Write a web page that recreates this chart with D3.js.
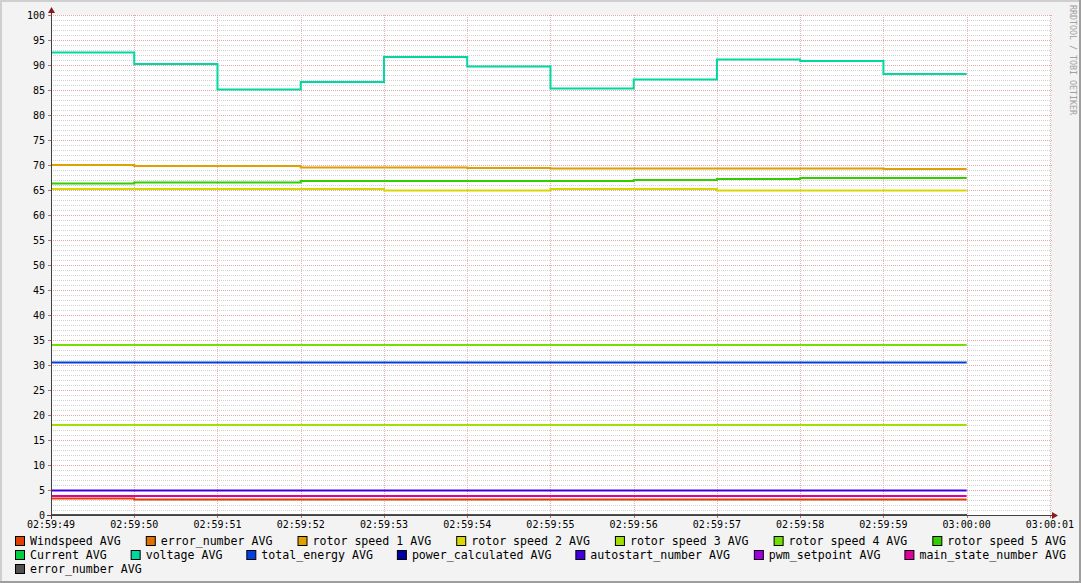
<!DOCTYPE html>
<html><head><meta charset="utf-8">
<script src="https://cdn.jsdelivr.net/npm/d3@7"></script>
<style>
html,body{margin:0;padding:0;background:#f3f3f3;}
svg{display:block;}
text{font-family:"DejaVu Sans Mono",monospace;}
</style></head>
<body><svg id="c" width="1081" height="583"></svg>
<script>
// ---- data ----
const startTime = "2024-01-01T02:59:49";
const tickLabels = ["02:59:49","02:59:50","02:59:51","02:59:52","02:59:53","02:59:54","02:59:55","02:59:56","02:59:57","02:59:58","02:59:59","03:00:00","03:00:01"];
const yTicks = [0,5,10,15,20,25,30,35,40,45,50,55,60,65,70,75,80,85,90,95,100];
const seriesNames = ["Windspeed AVG","error_number AVG","rotor speed 1 AVG","rotor speed 2 AVG","rotor speed 3 AVG","rotor speed 4 AVG","rotor speed 5 AVG","Current AVG","voltage AVG","total_energy AVG","power_calculated AVG","autostart_number AVG","pwm_setpoint AVG","main_state_number AVG","error_number AVG"];
const seriesColors = ["#e04000","#e07000","#e0a000","#d8d800","#a0e000","#70e000","#30d000","#00d040","#00d8a0","#0040e0","#0000a0","#4000e0","#a000e0","#e000a0","#505050"];
const windspeed = [3.3,3.1,3.1,3.1,3.1,3.1,3.1,3.1,3.1,3.1,3.1];
const errorNumber1 = [0,0,0,0,0,0,0,0,0,0,0];
const rotor1 = [70.0,69.8,69.8,69.5,69.5,69.4,69.3,69.3,69.3,69.3,69.2];
const rotor2 = [65.2,65.2,65.2,65.2,64.9,64.9,65.2,65.2,64.9,64.9,64.9];
const rotor3 = [18.0,18.0,18.0,18.0,18.0,18.0,18.0,18.0,18.0,18.0,18.0];
const rotor4 = [34.0,34.0,34.0,34.0,34.0,34.0,34.0,34.0,34.0,34.0,34.0];
const rotor5 = [66.3,66.5,66.5,66.8,66.8,66.8,66.8,67.0,67.2,67.4,67.4];
const current = [0,0,0,0,0,0,0,0,0,0,0];
const voltage = [92.5,90.2,85.1,86.6,91.6,89.7,85.3,87.1,91.1,90.8,88.2];
const totalEnergy = [30.5,30.5,30.5,30.5,30.5,30.5,30.5,30.5,30.5,30.5,30.5];
const powerCalculated = [0,0,0,0,0,0,0,0,0,0,0];
const autostart = [4.9,4.9,4.9,4.9,4.9,4.9,4.9,4.9,4.9,4.9,4.9];
const pwmSetpoint = [0,0,0,0,0,0,0,0,0,0,0];
const mainState = [3.8,3.8,3.8,3.8,3.8,3.8,3.8,3.8,3.8,3.8,3.8];
const errorNumber2 = [0,0,0,0,0,0,0,0,0,0,0];
const seriesValues = [windspeed,errorNumber1,rotor1,rotor2,rotor3,rotor4,rotor5,current,voltage,totalEnergy,powerCalculated,autostart,pwmSetpoint,mainState,errorNumber2];

// ---- layout ----
const W=1081,H=583;
const L=51,R=1051,T=15,B=515;
const svg=d3.select("#c");
const t0=new Date(startTime);
const sec=s=>new Date(t0.getTime()+s*1000);
const x=d3.scaleTime().domain([t0,sec(12.013)]).range([L,R]);
const y=d3.scaleLinear().domain([0,100]).range([B,T]);

// background & frame
svg.append("rect").attr("width",W).attr("height",H).attr("fill","#f3f3f3");
svg.append("rect").attr("x",L).attr("y",T).attr("width",R-L).attr("height",B-T).attr("fill","#ffffff");
svg.append("rect").attr("x",0).attr("y",0).attr("width",W).attr("height",2).attr("fill","#cfcfcf");
svg.append("rect").attr("x",0).attr("y",0).attr("width",2).attr("height",H).attr("fill","#cfcfcf");
svg.append("rect").attr("x",0).attr("y",H-2).attr("width",W).attr("height",2).attr("fill","#9e9e9e");
svg.append("rect").attr("x",W-2).attr("y",0).attr("width",2).attr("height",H).attr("fill","#9e9e9e");

// minor grid
const minor=d3.range(0,101,1).filter(v=>v%5!==0);
svg.append("g").selectAll("line").data(minor).join("line")
  .attr("x1",L).attr("x2",R+1).attr("y1",d=>y(d)+0.5).attr("y2",d=>y(d)+0.5)
  .attr("stroke","#d2d2d2").attr("stroke-width",1).attr("stroke-dasharray","1,1");
// major grid
const tickDates=tickLabels.map((s,i)=>sec(i));
svg.append("g").selectAll("line").data(yTicks.filter(v=>v>0)).join("line")
  .attr("x1",L).attr("x2",R+1).attr("y1",d=>y(d)+0.5).attr("y2",d=>y(d)+0.5)
  .attr("stroke","#e2a8a8").attr("stroke-width",1).attr("stroke-dasharray","1,1");
svg.append("g").selectAll("line").data(tickDates.slice(1)).join("line")
  .attr("x1",d=>Math.round(x(d))+0.5).attr("x2",d=>Math.round(x(d))+0.5).attr("y1",T).attr("y2",B)
  .attr("stroke","#e2b4b4").attr("stroke-width",1).attr("stroke-dasharray","1,1");

// series
const line=d3.line().x(d=>x(d[0])).y(d=>y(d[1])).curve(d3.curveStepAfter);
seriesValues.forEach((vals,k)=>{
  const pts=vals.map((v,i)=>[sec(i),v]);
  pts.push([sec(vals.length),vals[vals.length-1]]);
  svg.append("path").attr("d",line(pts)).attr("fill","none")
    .attr("stroke",seriesColors[k]).attr("stroke-width",2);
});

// axes
const axisCol="#404040", arrowCol="#8b1a1a";
svg.append("line").attr("x1",L-4).attr("x2",R+3).attr("y1",B+0.5).attr("y2",B+0.5).attr("stroke",axisCol);
svg.append("line").attr("x1",L+0.5).attr("x2",L+0.5).attr("y1",B+4).attr("y2",T-4).attr("stroke",axisCol);
svg.append("path").attr("d",`M${R+1},${B-3}L${R+7},${B+0.5}L${R+1},${B+4}Z`).attr("fill",arrowCol);
svg.append("path").attr("d",`M${L-3},${T-2}L${L+0.5},${T-8}L${L+4},${T-2}Z`).attr("fill",arrowCol);
// small ticks
svg.append("g").selectAll("line").data(yTicks).join("line")
  .attr("x1",L-3).attr("x2",L).attr("y1",d=>y(d)+0.5).attr("y2",d=>y(d)+0.5).attr("stroke",arrowCol).attr("stroke-opacity",0.6);
svg.append("g").selectAll("line").data(tickDates).join("line")
  .attr("x1",d=>Math.round(x(d))+0.5).attr("x2",d=>Math.round(x(d))+0.5).attr("y1",B).attr("y2",B+3).attr("stroke",arrowCol).attr("stroke-opacity",0.6);

// tick labels
svg.append("g").selectAll("text").data(yTicks).join("text")
  .attr("x",45).attr("y",d=>y(d)+3.5).attr("text-anchor","end")
  .attr("font-size","10px").attr("fill","#000").text(d=>d);
svg.append("g").selectAll("text").data(tickLabels).join("text")
  .attr("x",(d,i)=>x(tickDates[i])).attr("y",527.5).attr("text-anchor","middle")
  .attr("font-size","10px").attr("fill","#000").text(d=>d);

// watermark
svg.append("text").attr("transform","translate(1070,5) rotate(90)")
  .attr("font-size","8.3px").attr("fill","#a0a0a0").text("RRDTOOL / TOBI OETIKER");

// legend (justified rows, rrdtool style)
const lg=svg.append("g");
const items=seriesNames.map((n,i)=>{
  const g=lg.append("g");
  g.append("rect").attr("x",0.5).attr("y",-8.5).attr("width",9).attr("height",9)
    .attr("fill",seriesColors[i]).attr("stroke","#000").attr("stroke-width",1);
  const t=g.append("text").attr("x",15).attr("y",0).attr("font-size","11.6px").attr("fill","#000").text(n);
  return {g,w:15+t.node().getComputedTextLength()};
});
const left=15,right=1066,minGap=14;
let rows=[],cur=[],cw=0;
items.forEach(it=>{
  const need=cw+(cur.length?minGap:0)+it.w;
  if(cur.length && need>right-left){rows.push(cur);cur=[it];cw=it.w;}
  else{cur.push(it);cw=need;}
});
if(cur.length)rows.push(cur);
rows.forEach((row,r)=>{
  const tot=d3.sum(row,d=>d.w);
  const last=r===rows.length-1 && row.length<3;
  const gap=(!last && row.length>1)?(right-left-tot)/(row.length-1):minGap;
  let px=left;
  row.forEach(it=>{it.g.attr("transform",`translate(${px},${545+r*14})`);px+=it.w+gap;});
});
</script></body></html>
